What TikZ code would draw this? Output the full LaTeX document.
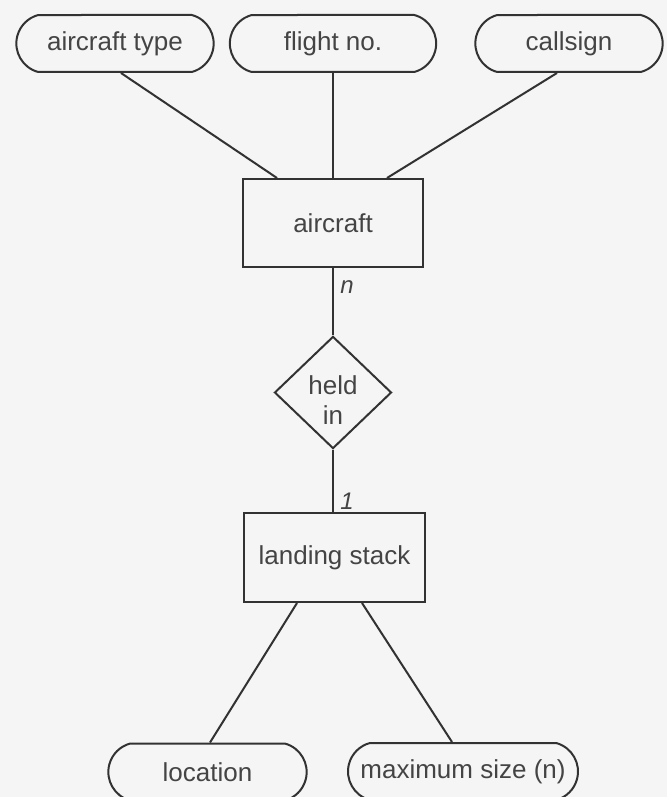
\documentclass[tikz,border=0pt]{standalone}
\usepackage{fontspec}
\setmainfont{Liberation Sans}
\usetikzlibrary{shapes.geometric,shapes.misc}
\definecolor{ink}{RGB}{50,50,50}
\definecolor{lettering}{RGB}{68,68,68}
\definecolor{paper}{RGB}{245,245,245}

\begin{document}
\begin{tikzpicture}[x=1pt,y=-1pt,
    entity/.style={draw=ink,line width=2pt,text=lettering,minimum width=180pt,
      minimum height=88pt,font=\fontsize{26}{32}\selectfont},
    attrib/.style={draw=ink,line width=2pt,text=lettering,rounded rectangle,
      rounded rectangle arc length=150,minimum height=57pt,
      font=\fontsize{26}{32}\selectfont},
    relation/.style={draw=ink,line width=2pt,text=lettering,diamond,inner sep=0pt,
      minimum width=117pt,minimum height=110pt,align=center,text height=63pt,
      font=\fontsize{26}{30}\selectfont},
    card/.style={text=lettering,font=\fontsize{24}{28}\selectfont\itshape},
    link/.style={ink,line width=2pt}]
  \clip (0,0) rectangle (667,797);
  \fill[paper] (0,0) rectangle (667,797);

  % attributes of aircraft
  \node[attrib,minimum width=204pt] (atype) at (115,43.5) {aircraft type};
  \node[attrib,minimum width=213pt] (flightno) at (333,43.5) {flight no.};
  \node[attrib,minimum width=194pt] (callsign) at (569,43.5) {callsign};

  % entities and the relationship
  \node[entity] (aircraft) at (333,223) {aircraft};
  \node[relation] (heldin) at (333,392.5) {held\\in};
  \node[entity,minimum width=181pt,minimum height=89pt] (stack) at (334.5,557.5) {landing stack};

  % attributes of landing stack
  \node[attrib,minimum width=205pt] (location) at (207.5,772) {location};
  \node[attrib,minimum width=230pt,inner xsep=0pt] (maxsize) at (463,771.5) {maximum size (n)};

  \draw[link] ([xshift=6pt]atype.south) -- ([xshift=-56pt]aircraft.north);
  \draw[link] (flightno.south) -- (aircraft.north);
  \draw[link] ([xshift=-12pt]callsign.south) -- ([xshift=54pt]aircraft.north);

  \draw[link] (aircraft.south) -- node[card,right=3pt,pos=0.28] (cardn) {n} (heldin.north);
  \draw[link] (heldin.south) -- node[card,right=3pt,pos=0.82] (card1) {1} (heldin.south |- stack.north);

  \draw[link] ([xshift=-37.5pt]stack.south) -- ([xshift=2.5pt]location.north);
  \draw[link] ([xshift=27.5pt]stack.south) -- ([xshift=-11pt]maxsize.north);
\end{tikzpicture}
\end{document}
